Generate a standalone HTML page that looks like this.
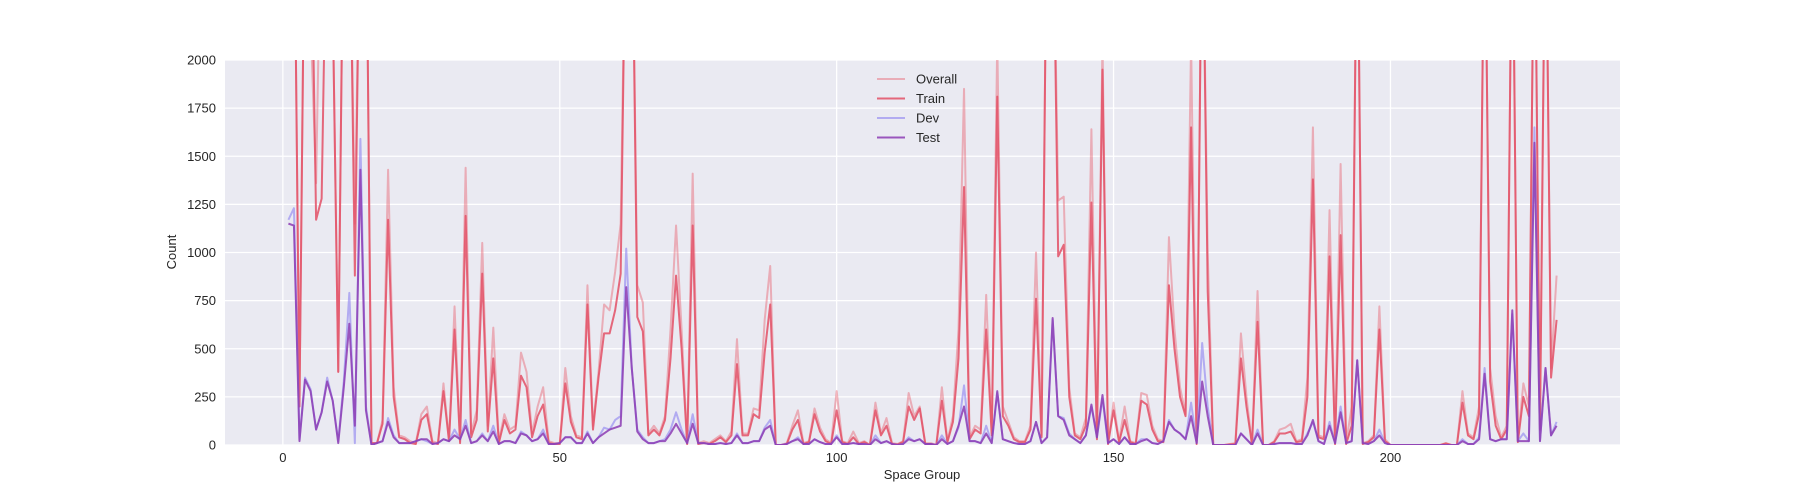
<!DOCTYPE html>
<html><head><meta charset="utf-8"><title>Space Group Counts</title>
<style>
html,body{margin:0;padding:0;background:#fff;}
svg{display:block;font-family:"Liberation Sans","DejaVu Sans",sans-serif;}
</style></head>
<body>
<svg id="chart" width="1800" height="500" viewBox="0 0 1800 500">
<defs><clipPath id="plotclip"><rect x="225" y="60" width="1395" height="385"/></clipPath></defs>
<rect x="225" y="60" width="1395" height="385" fill="#EAEAF2"/>
<g id="grid"></g>
<g id="ticks"></g>
<g id="series" clip-path="url(#plotclip)"></g>
<text x="922" y="479" text-anchor="middle" font-size="13" fill="#262626">Space Group</text>
<text x="0" y="0" transform="translate(176,252) rotate(-90)" text-anchor="middle" font-size="13" fill="#262626">Count</text>
<g id="legend"></g>
</svg>
<script>
const xTicks=[0,50,100,150,200];
const yTicks=[0,250,500,750,1000,1250,1500,1750,2000];
const seriesNames=["Overall","Train","Dev","Test"];
const overall=[3000,3000,250,3000,2200,1360,3000,3000,2300,380,3000,3000,1150,3000,3000,10,10,130,1430,300,50,40,20,10,160,200,20,10,320,30,720,20,1440,60,180,1050,100,610,20,160,80,100,480,380,60,200,300,20,10,10,
400,150,50,40,830,100,380,730,700,900,1150,3000,3000,830,740,60,100,60,150,600,1140,600,10,1410,10,20,10,30,50,20,70,550,60,60,190,180,650,930,0,0,10,100,180,10,20,190,90,30,10,280,
20,10,70,10,20,0,220,60,140,10,5,20,270,150,200,10,10,0,300,20,150,600,1850,40,100,80,780,60,2100,200,120,40,20,20,100,1000,50,3000,3000,1270,1290,300,60,40,140,1640,40,2100,10,220,
20,200,20,10,270,260,100,30,20,1080,600,300,160,2100,10,3000,1000,0,0,0,5,10,580,250,5,800,0,0,20,80,90,110,20,30,350,1650,50,40,1220,10,1460,10,200,3000,10,20,50,720,30,0,
0,0,0,0,0,0,0,0,0,10,0,0,280,60,40,200,3000,400,150,40,100,3000,20,320,200,3000,100,3000,400,880];
const train=[3000,3000,200,3000,3000,1170,1280,3000,2300,380,3000,3000,880,3000,3000,10,10,110,1170,250,40,30,10,5,130,160,10,5,280,20,600,10,1190,40,130,890,70,450,10,130,60,80,360,300,40,150,210,10,5,5,
320,120,40,30,730,80,350,580,580,700,890,3000,3000,665,590,50,80,50,130,450,880,500,5,1140,5,10,5,20,40,15,50,420,50,50,160,140,480,730,0,0,5,80,130,5,15,160,70,20,5,180,
15,5,40,5,15,0,180,50,100,5,3,15,200,130,190,5,5,0,230,15,120,450,1340,30,80,60,600,50,1810,150,100,30,15,15,80,760,40,3000,3000,980,1040,250,50,30,100,1260,30,1950,5,180,
15,130,15,5,230,210,80,20,15,830,500,250,150,1650,5,3000,800,0,0,0,3,5,450,200,3,640,0,0,15,60,60,70,15,20,250,1380,40,30,980,5,1090,5,100,3000,5,15,40,600,20,0,
0,0,0,0,0,0,0,0,0,8,0,0,220,50,30,160,3000,330,100,30,80,3000,15,250,150,3000,80,3000,350,650];
const dev=[1170,1230,30,350,290,80,170,350,230,20,330,790,10,1590,200,0,10,20,140,50,10,10,10,20,30,20,5,10,30,20,80,30,130,10,20,60,20,100,5,20,20,10,70,50,20,30,80,5,5,10,
40,40,10,10,70,10,40,90,80,130,150,1020,400,80,40,10,10,20,30,80,170,80,10,160,10,10,5,5,10,5,10,60,10,10,20,20,90,130,0,0,5,20,40,5,5,30,15,5,5,50,
5,5,10,5,5,0,50,10,20,5,0,5,40,20,30,5,5,0,50,5,20,90,310,20,20,10,100,10,270,30,20,10,5,5,20,120,10,40,650,150,140,60,30,10,50,200,40,240,10,30,
5,40,5,5,30,30,10,5,20,130,80,60,30,220,10,530,200,0,0,0,0,0,60,30,0,80,0,0,5,10,10,10,5,5,60,120,20,5,120,10,200,10,20,440,10,5,20,80,10,0,
0,0,0,0,0,0,0,0,0,0,0,0,30,5,5,40,400,30,20,30,30,680,20,60,20,1650,20,400,50,120];
const test=[1150,1140,20,340,280,80,170,330,230,10,300,630,100,1430,180,0,10,20,120,40,10,10,10,20,30,30,5,10,30,20,50,30,100,10,20,50,20,70,5,20,20,10,60,50,20,30,60,5,5,10,
40,40,10,10,60,10,40,60,80,90,100,820,400,70,30,10,10,20,20,60,110,60,10,110,10,10,5,5,10,5,10,50,10,10,20,20,80,100,0,0,5,20,30,5,5,30,15,5,5,40,
5,5,10,5,5,0,30,10,20,5,0,5,30,20,30,5,5,0,30,5,20,100,200,20,20,10,60,10,280,30,20,10,5,5,20,120,10,40,660,150,130,50,30,10,50,210,40,260,10,30,
5,40,5,5,20,30,10,5,20,120,80,60,30,150,10,330,150,0,0,0,0,0,60,30,0,60,0,0,5,10,10,10,5,5,50,130,20,5,100,10,170,10,20,440,10,5,20,50,10,0,
0,0,0,0,0,0,0,0,0,0,0,0,20,5,5,30,370,30,20,30,30,700,20,20,20,1570,20,400,50,100];

const NS="http://www.w3.org/2000/svg";
const L=225,R=1620,T=60,B=445,XMIN=-10.45,XMAX=241.45,YMAX=2000;
function xs(v){return L+(v-XMIN)/(XMAX-XMIN)*(R-L);}
function ys(v){return B-v/YMAX*(B-T);}
function mk(tag,attrs,parent){const e=document.createElementNS(NS,tag);for(const k in attrs)e.setAttribute(k,attrs[k]);parent.appendChild(e);return e;}
const grid=document.getElementById('grid'),ticks=document.getElementById('ticks');
yTicks.forEach(v=>{
  const ln=mk('line',{x1:L,x2:R,y1:ys(v),y2:ys(v),stroke:'#fff','stroke-width':1.3},grid);
  
  
  const t=mk('text',{x:L-9,y:ys(v)+4.5,'text-anchor':'end','font-size':13,fill:'#262626'},ticks);
  t.textContent=v;
  
  
});
xTicks.forEach(v=>{
  const ln=mk('line',{x1:xs(v),x2:xs(v),y1:T,y2:B,stroke:'#fff','stroke-width':1.3},grid);
  
  
  const t=mk('text',{x:xs(v),y:B+17,'text-anchor':'middle','font-size':13,fill:'#262626'},ticks);
  t.textContent=v;
  
  
});
const colors=['rgba(232,98,110,0.45)','rgba(227,80,102,0.85)','rgba(140,128,240,0.6)','rgba(140,60,180,0.85)'];
const datas=[overall,train,dev,test];
const sg=document.getElementById('series');
datas.forEach((d,i)=>{
  const pts=d.map((v,j)=>xs(j+1).toFixed(2)+','+ys(v).toFixed(2)).join(' ');
  const pl=mk('polyline',{points:pts,fill:'none',stroke:colors[i],'stroke-width':2,'stroke-linejoin':'round'},sg);
  
  
});
const lg=document.getElementById('legend');
seriesNames.forEach((n,i)=>{
  const y=79+i*19.5;
  const ln=mk('line',{x1:877,x2:905,y1:y,y2:y,stroke:colors[i],'stroke-width':2},lg);
  
  
  const t=mk('text',{x:916,y:y+4.5,'font-size':13,fill:'#262626'},lg);
  t.textContent=n;
  
  
});
</script>
</body></html>
